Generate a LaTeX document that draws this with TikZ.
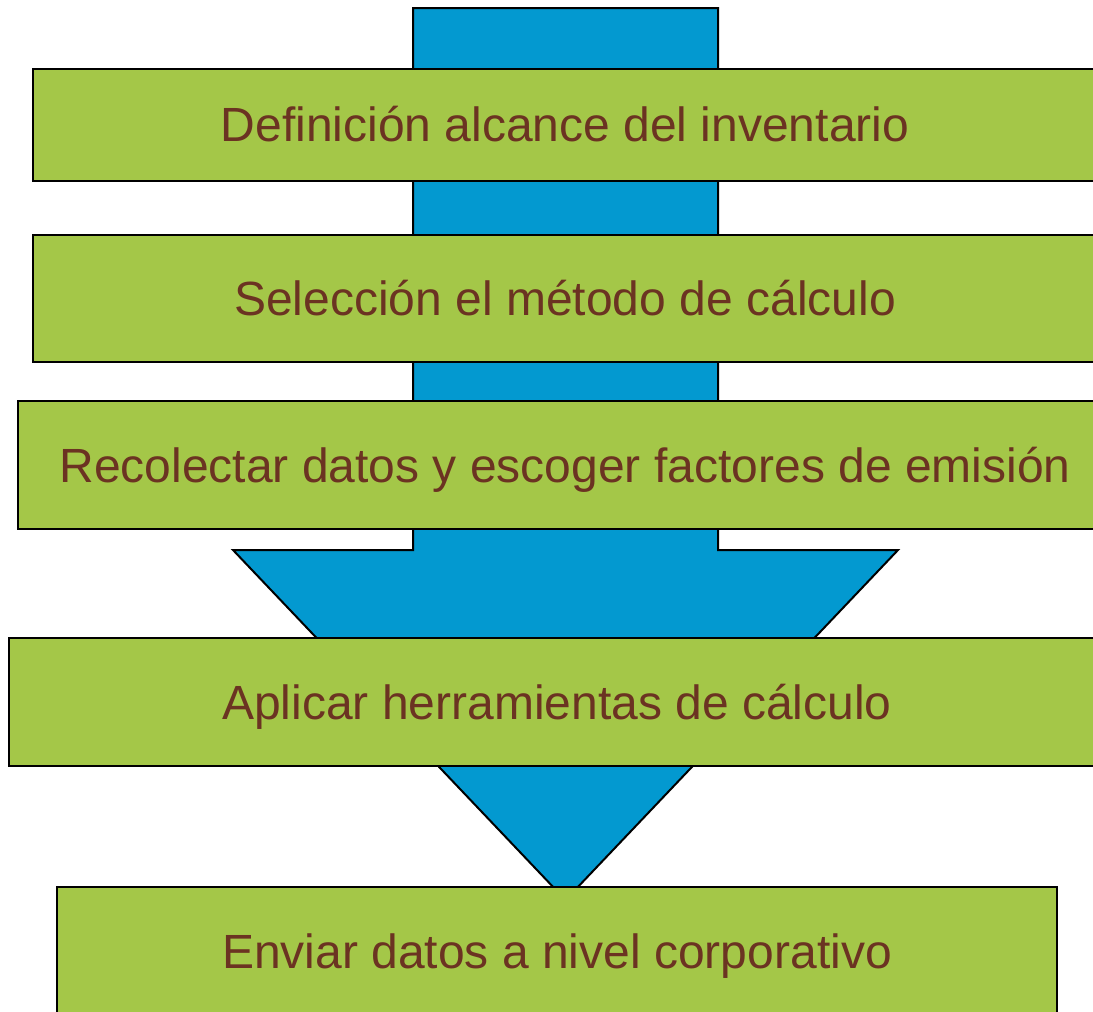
\documentclass[tikz,border=0pt]{standalone}
\usepackage{fontspec}
\setmainfont{Liberation Sans}
\definecolor{arrowblue}{HTML}{0399D0}
\definecolor{boxgreen}{HTML}{A4C748}
\definecolor{textbrown}{HTML}{6B3322}
\begin{document}
\begin{tikzpicture}[x=0.75pt,y=-0.75pt,
  stepbox/.style={draw=black, line width=1.5pt, fill=boxgreen, rectangle, inner sep=0pt,
    text height=25.8pt, text depth=0pt,
    text=textbrown, font=\fontsize{36}{40}\selectfont},
  bigarrow/.style={draw=black, line width=1.5pt, fill=arrowblue, line join=miter}]
\useasboundingbox (0,0) rectangle (1093,1011);
\clip (0,0) rectangle (1093,1011);
\fill[white] (0,0) rectangle (1093,1011);
\draw[bigarrow] (413,8) -- (718,8) -- (718,550) -- (898,550) -- (565.5,900) -- (233,550) -- (413,550) -- cycle;
\node[stepbox, minimum width=798pt, minimum height=84pt] (b1) at (565,124.5) {Definición alcance del inventario};
\node[stepbox, minimum width=798pt, minimum height=95.25pt] (b2) at (565,298.5) {Selección el método de cálculo};
\node[stepbox, minimum width=820.5pt, minimum height=96pt] (b3) at (565,465) {Recolectar datos y escoger factores de emisión};
\node[stepbox, minimum width=822pt, minimum height=96pt] (b4) at (557,702) {Aplicar herramientas de cálculo};
\node[stepbox, minimum width=750pt, minimum height=96pt] (b5) at (557,951) {Enviar datos a nivel corporativo};
\end{tikzpicture}
\end{document}
